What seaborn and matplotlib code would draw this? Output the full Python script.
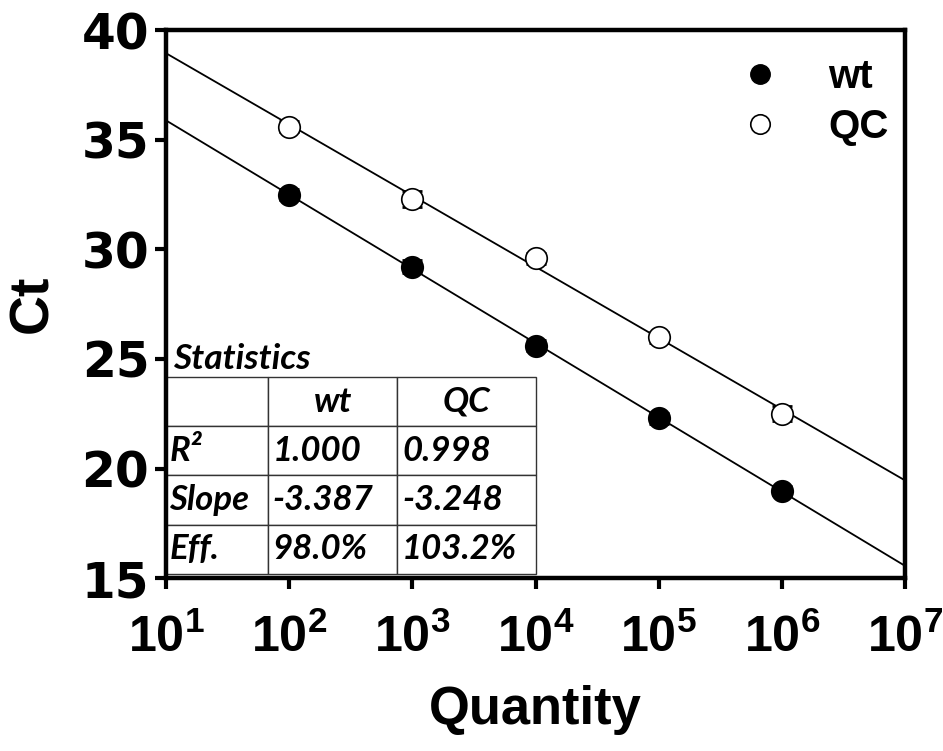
import matplotlib
matplotlib.use("Agg")
import matplotlib.pyplot as plt
from matplotlib import font_manager as fm
from matplotlib.lines import Line2D
import numpy as np
import pandas as pd
import seaborn as sns

# standard curve data
quantity = [1e2, 1e3, 1e4, 1e5, 1e6]
ct_wt = [32.5, 29.2, 25.6, 22.3, 19.0]
ct_qc = [35.6, 32.3, 29.6, 26.0, 22.5]
err_wt = [0.25, 0.3, 0.25, 0.25, 0.2]
err_qc = [0.25, 0.35, 0.25, 0.25, 0.35]

slope_wt = -3.387
slope_qc = -3.248

stats_header = ["", "wt", "QC"]
stats_rows = [
    ["R²", "1.000", "0.998"],
    ["Slope", "-3.387", "-3.248"],
    ["Eff.", "98.0%", "103.2%"],
]

installed = {f.name for f in fm.fontManager.ttflist}
NARROW = "Liberation Sans Narrow" if "Liberation Sans Narrow" in installed else "Liberation Sans"
narrow_scale = 1.0 if NARROW == "Liberation Sans Narrow" else 0.88
TABLE_FONT = "Lato"

sns.set_theme(style="ticks")
plt.rcParams["font.family"] = ["Liberation Sans", "DejaVu Sans"]
plt.rcParams["mathtext.fontset"] = "custom"
plt.rcParams["mathtext.bf"] = NARROW + ":bold"
plt.rcParams["mathtext.rm"] = NARROW + ":bold"
for key in ["text.color", "axes.labelcolor", "xtick.color", "ytick.color", "axes.edgecolor"]:
    plt.rcParams[key] = "black"


def fit_line(slope, ct):
    # line through the centroid with the reported slope, over the full x range
    logq = np.log10(quantity)
    intercept = np.mean(ct) - slope * logq.mean()
    xs = np.logspace(1, 7, 50)
    return pd.DataFrame({"x": xs, "y": intercept + slope * np.log10(xs)})


fig = plt.figure(figsize=(9.43, 7.51), dpi=100)
ax = fig.add_axes([0.176, 0.230, 0.784, 0.730])

for slope, ct in [(slope_wt, ct_wt), (slope_qc, ct_qc)]:
    line = fit_line(slope, ct)
    sns.lineplot(data=line, x="x", y="y", color="black", lw=1.3, ax=ax, zorder=1)

ax.errorbar(quantity, ct_wt, yerr=err_wt, fmt="none", ecolor="black",
            elinewidth=1.5, capsize=7, capthick=2, zorder=2)
ax.errorbar(quantity, ct_qc, yerr=err_qc, fmt="none", ecolor="black",
            elinewidth=1.5, capsize=7, capthick=2, zorder=2)
sns.scatterplot(x=quantity, y=ct_wt, color="black", edgecolor="black",
                s=240, linewidth=1.2, ax=ax, zorder=3)
sns.scatterplot(x=quantity, y=ct_qc, color="white", edgecolor="black",
                s=240, linewidth=1.2, ax=ax, zorder=3)

ax.set_xscale("log")
ax.set_xlim(1e1, 1e7)
ax.set_ylim(15, 40)
exps = np.arange(1, 8)
ax.set_xticks(10.0 ** exps)
ax.set_xticklabels([r"$\mathbf{10^{%d}}$" % e for e in exps], fontsize=41 * narrow_scale)
ax.xaxis.set_minor_locator(matplotlib.ticker.NullLocator())
ax.set_yticks([15, 20, 25, 30, 35, 40])
ax.set_yticklabels([str(v) for v in [15, 20, 25, 30, 35, 40]],
                   fontsize=35, fontweight="bold", family="DejaVu Sans")

for side in ["left", "right", "top", "bottom"]:
    ax.spines[side].set_visible(True)
    ax.spines[side].set_linewidth(3.2)
    ax.spines[side].set_color("black")
ax.tick_params(axis="both", direction="out", length=8, width=3, color="black")
ax.tick_params(axis="x", pad=18)
ax.tick_params(axis="y", pad=4)

ax.set_xlabel("Quantity", fontsize=43 * narrow_scale, fontweight="bold",
              family=NARROW, labelpad=16)
ax.set_ylabel("Ct", fontsize=40, fontweight="bold", labelpad=16)

handles = [
    Line2D([], [], marker="o", ls="none", color="black", markersize=14),
    Line2D([], [], marker="o", ls="none", markerfacecolor="white",
           markeredgecolor="black", markeredgewidth=1.2, markersize=14),
]
ax.legend(handles, ["wt", "QC"], loc="upper left", bbox_to_anchor=(0.70, 1.015),
          frameon=False, prop={"family": "Liberation Sans", "weight": "bold", "size": 29},
          handletextpad=0.7, labelspacing=0.3)

# statistics table
tab = ax.table(cellText=stats_rows, colLabels=stats_header,
               colWidths=[0.276, 0.350, 0.374],
               bbox=[0.0, 0.008, 0.5, 0.359], cellLoc="left")
tab.auto_set_font_size(False)
for (r, c), cell in tab.get_celld().items():
    cell.set_linewidth(1.0)
    cell.set_edgecolor("#333333")
    cell.set_facecolor("white")
    txt = cell.get_text()
    txt.set_fontsize(25)
    txt.set_fontweight("bold")
    txt.set_fontstyle("italic")
    txt.set_family(TABLE_FONT)
    if r == 0:
        txt.set_horizontalalignment("center")
        cell._loc = "center"
    cell.PAD = 0.035
ax.text(0.009, 0.37, "Statistics", transform=ax.transAxes, fontsize=25.5,
        fontweight="bold", fontstyle="italic", family=TABLE_FONT,
        ha="left", va="bottom")

fig.savefig("out.png", dpi=100)
